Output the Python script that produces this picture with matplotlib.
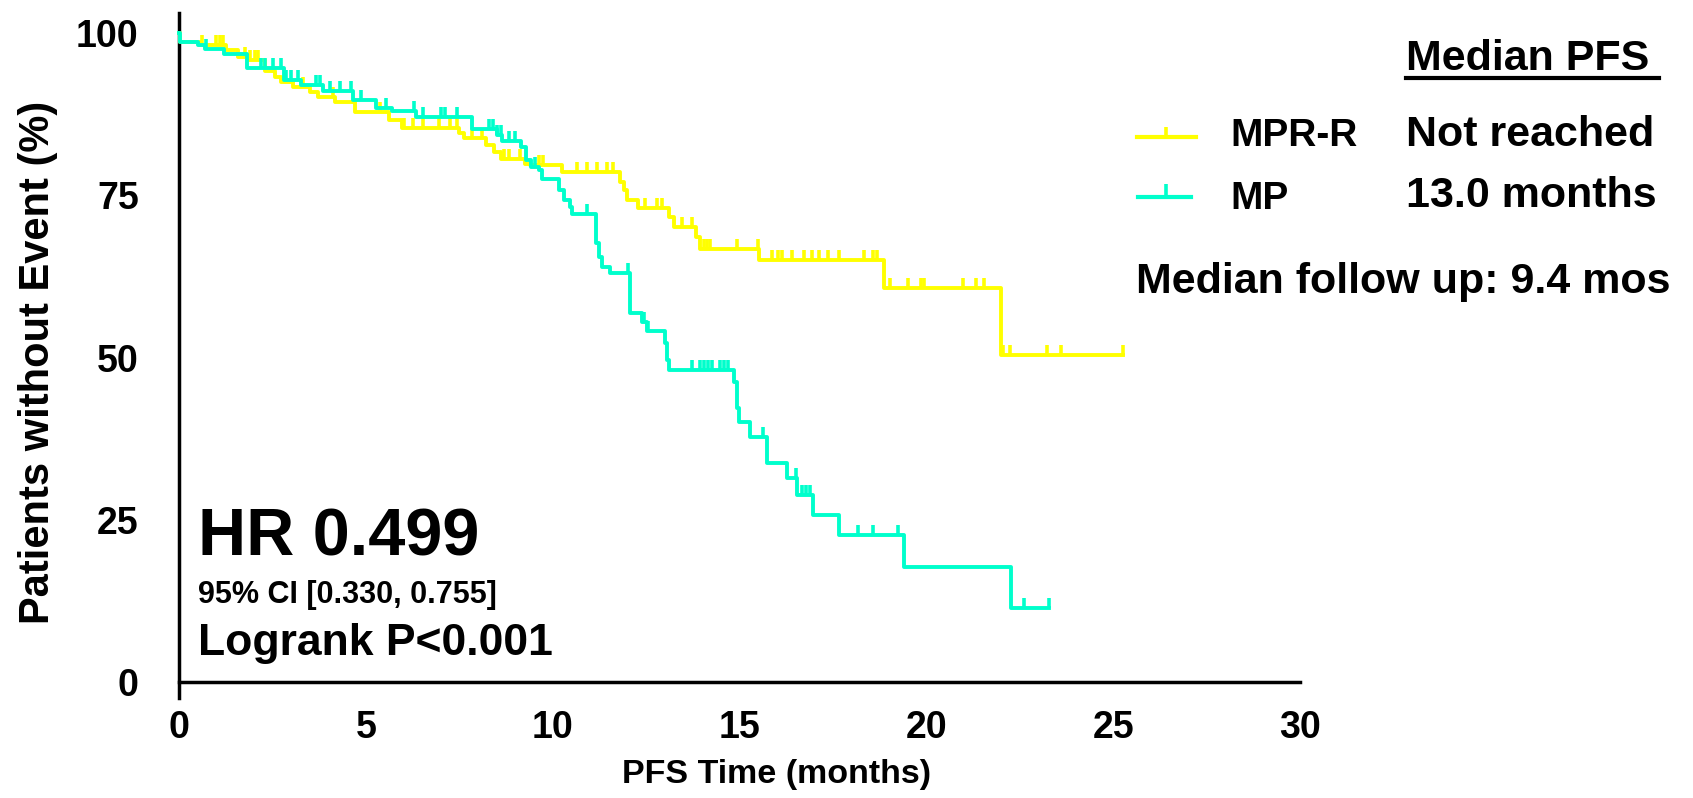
import numpy as np
import matplotlib
matplotlib.use('Agg')
import matplotlib.pyplot as plt
from matplotlib.lines import Line2D

W, H = 1693, 798

# MPR-R arm (yellow): step start times and survival (%)
mprr_t = [0, 0.03, 0.56, 1.25, 1.58, 1.85, 2.30, 2.56, 2.72, 3.04, 3.50, 3.71, 4.17, 4.70,
          5.63, 5.98, 7.50, 7.64, 8.22, 8.44, 8.62, 9.27, 9.40, 10.25, 11.80, 11.91, 11.99,
          12.28, 13.11, 13.24, 13.83, 13.94, 15.52, 18.88, 22.0]
mprr_s = [100, 98.7, 98.2, 97.4, 96.3, 95.8, 94.1, 93.2, 92.5, 91.7, 90.9, 90.2, 89.4, 87.9,
          86.6, 85.4, 84.6, 83.8, 82.7, 81.7, 80.6, 79.9, 79.7, 78.6, 77.1, 75.8, 74.3,
          73.0, 71.7, 70.2, 68.6, 66.8, 65.0, 60.7, 50.4]
mprr_end = 25.26
mprr_cens = [0.61, 0.99, 1.09, 1.17, 1.76, 1.90, 2.03, 2.11, 3.31, 4.11, 5.39, 6.03, 6.25,
             6.52, 6.97, 7.26, 7.45, 7.85, 8.12, 8.70, 8.84, 9.13, 9.64, 9.75, 10.65, 10.92,
             11.19, 11.46, 11.62, 12.47, 12.79, 12.92, 13.46, 13.72, 14.05, 14.13, 14.21,
             14.93, 15.50, 15.86, 16.02, 16.15, 16.40, 16.72, 16.93, 17.14, 17.38, 17.65,
             18.34, 18.56, 18.69, 19.04, 19.52, 19.87, 19.95, 20.99, 21.33, 21.55, 22.06,
             22.24, 23.23, 23.60, 25.26]

# MP arm (cyan)
mp_t = [0, 0.03, 0.51, 0.70, 1.20, 1.82, 2.80, 3.26, 3.85, 4.65, 5.26, 5.71, 6.33, 7.85,
        8.52, 8.65, 9.16, 9.29, 9.43, 9.64, 9.72, 10.17, 10.31, 10.47, 10.52, 11.16, 11.24,
        11.32, 11.54, 12.07, 12.39, 12.52, 13.0, 13.06, 13.11, 14.85, 14.93, 15.0, 15.27,
        15.73, 16.26, 16.53, 16.98, 17.65, 19.41, 22.27]
mp_s = [100, 98.7, 98.1, 97.5, 96.8, 94.7, 92.7, 92.0, 91.1, 89.7, 88.5, 88.0, 87.1, 85.3,
        84.3, 83.3, 82.5, 80.4, 79.4, 78.9, 77.5, 75.8, 74.3, 73.2, 72.2, 67.6, 65.5,
        64.0, 63.0, 56.8, 55.5, 54.1, 52.2, 49.6, 48.1, 46.3, 42.2, 40.1, 37.8,
        33.7, 31.4, 28.8, 25.7, 22.6, 17.8, 11.4]
mp_end = 23.28
mp_cens = [0.72, 2.19, 2.30, 2.51, 2.72, 2.86, 2.99, 3.18, 3.66, 3.77, 4.03, 4.30, 4.59,
           4.86, 5.55, 6.30, 6.52, 7.00, 7.13, 7.45, 8.30, 8.41, 8.52, 8.62, 8.84, 9.00,
           9.53, 10.92, 12.02, 12.44, 12.55, 13.72, 13.94, 14.05, 14.15, 14.26, 14.47,
           14.58, 14.69, 15.62, 16.50, 16.66, 16.77, 16.88, 18.16, 18.56, 19.25, 22.62, 23.28]

xticks = [0, 5, 10, 15, 20, 25, 30]
yticks = [0, 25, 50, 75, 100]

YELLOW = '#FFFF00'
CYAN = '#00FFCC'

plt.rcParams['font.family'] = ['Liberation Sans', 'DejaVu Sans']
plt.rcParams['font.weight'] = 'bold'

fig = plt.figure(figsize=(W / 100, H / 100), dpi=100)
ax = fig.add_axes([176 / W, 1 - 698 / H, 1124 / W, 685 / H])


def px(x, y):
    return x / W, 1 - y / H


tick_marker = [(0, 0), (0, 1)]


def km(t, s, end, cens, color):
    tt = list(t) + [end]
    ss = list(s) + [s[-1]]
    ax.step(tt, ss, where='post', color=color, lw=2.8, zorder=3)
    idx = np.searchsorted(t, cens, side='right') - 1
    ax.plot(cens, np.array(s)[idx], ls='none', marker=tick_marker, ms=15,
            mew=2.6, mec=color, zorder=3)


km(mprr_t, mprr_s, mprr_end, mprr_cens, YELLOW)
km(mp_t, mp_s, mp_end, mp_cens, CYAN)

ax.set_xlim(-0.08, 30)
ax.set_ylim(-2.45, 103.1)
for side in ['top', 'right']:
    ax.spines[side].set_visible(False)
ax.spines['left'].set_position(('data', 0))
ax.spines['bottom'].set_position(('data', 0))
ax.spines['bottom'].set_bounds(0, 30)
for side in ['left', 'bottom']:
    ax.spines[side].set_linewidth(2.5)
ax.set_xticks(xticks)
ax.set_yticks(yticks)
ax.tick_params(axis='x', length=0, labelsize=27, pad=20)
ax.tick_params(axis='y', length=0, labelsize=27, pad=29)
ax.patch.set_visible(False)

fig.text(*px(38, 362), 'Patients without Event (%)', rotation=90, size=30,
         ha='center', va='center')
fig.text(*px(777, 775), 'PFS Time (months)', size=24.5, ha='center', va='center')

fig.text(*px(198, 556), 'HR 0.499', size=48, va='baseline')
fig.text(*px(198, 603), '95% CI [0.330, 0.755]', size=22, va='baseline')
fig.text(*px(198, 655), 'Logrank P<0.001', size=32, va='baseline')

fig.text(*px(1406, 70), 'Median PFS', size=31, va='baseline')
fig.add_artist(Line2D([1406 / W, 1659 / W], [1 - 78 / H] * 2, lw=3.0, color='black',
                      transform=fig.transFigure))
fig.text(*px(1230, 146), 'MPR-R', size=28, va='baseline')
fig.text(*px(1406, 146), 'Not reached', size=31, va='baseline')
fig.text(*px(1230, 209), 'MP', size=28, va='baseline')
fig.text(*px(1406, 207), '13.0 months', size=31, va='baseline')
fig.text(*px(1136, 293), 'Median follow up: 9.4 mos', size=31, va='baseline')

# legend keys
fig.add_artist(Line2D([1137 / W, 1196 / W], [1 - 137 / H] * 2, lw=3.0, color=YELLOW,
                      transform=fig.transFigure))
fig.add_artist(Line2D([1166 / W], [1 - 137 / H], ls='none', marker=tick_marker, ms=15,
                      mew=2.6, mec=YELLOW, transform=fig.transFigure))
fig.add_artist(Line2D([1138 / W, 1191 / W], [1 - 197 / H] * 2, lw=3.0, color=CYAN,
                      transform=fig.transFigure))
fig.add_artist(Line2D([1166 / W], [1 - 197 / H], ls='none', marker=tick_marker, ms=19,
                      mew=2.6, mec=CYAN, transform=fig.transFigure))

fig.savefig('out.png', dpi=100)
